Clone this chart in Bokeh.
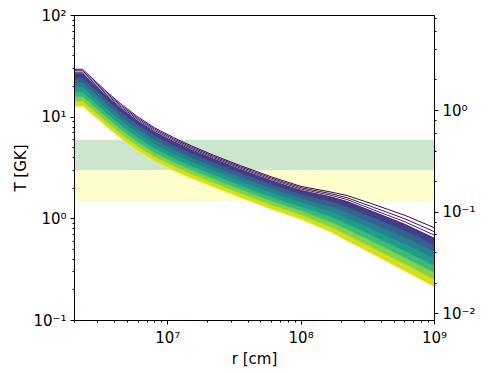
from bokeh.plotting import figure
from bokeh.models import Range1d, LogAxis, LogScale, CustomJSTickFormatter, BoxAnnotation
from bokeh.palettes import Viridis256
from bokeh.embed import file_html
from bokeh.resources import INLINE

# radius grid [cm]
r_cm = [2.0e6, 2.3e6, 2.8e6, 3.5e6, 4.5e6, 6e6, 8e6, 1.1e7, 1.5e7, 2.2e7,
        3.5e7, 6e7, 1e8, 1.65e8, 2.2e8, 3.5e8, 6e8, 1e9]
# position of each curve in the colour sequence (0 = first/purple, 1 = last/yellow)
frac = [0.0, 0.04, 0.08, 0.12, 0.25, 0.375, 0.5, 0.625, 0.75, 0.875, 1.0]
# temperature profiles T [GK]
T_curves = [
    [29.55, 29.55, 23.27, 17.70, 13.32, 10.00, 7.836, 6.310, 5.231, 4.231, 3.338, 2.587, 2.083, 1.840, 1.700, 1.387, 1.082, 0.816],
    [28.59, 28.59, 22.52, 17.15, 12.91, 9.698, 7.603, 6.125, 5.081, 4.112, 3.244, 2.512, 2.022, 1.774, 1.617, 1.296, 1.000, 0.746],
    [27.64, 27.64, 21.80, 16.62, 12.51, 9.403, 7.376, 5.944, 4.933, 3.994, 3.151, 2.439, 1.962, 1.711, 1.553, 1.225, 0.935, 0.689],
    [26.74, 26.74, 21.11, 16.10, 12.13, 9.120, 7.157, 5.771, 4.791, 3.880, 3.061, 2.369, 1.905, 1.651, 1.485, 1.171, 0.883, 0.644],
    [23.98, 23.98, 18.99, 14.53, 10.97, 8.255, 6.486, 5.237, 4.355, 3.533, 2.787, 2.153, 1.729, 1.468, 1.302, 1.016, 0.756, 0.547],
    [21.61, 21.61, 17.15, 13.16, 9.947, 7.499, 5.902, 4.772, 3.973, 3.228, 2.546, 1.964, 1.575, 1.311, 1.148, 0.885, 0.650, 0.468],
    [19.46, 19.46, 15.50, 11.92, 9.024, 6.813, 5.369, 4.347, 3.625, 2.948, 2.326, 1.793, 1.435, 1.171, 1.011, 0.771, 0.559, 0.402],
    [17.53, 17.53, 14.00, 10.80, 8.187, 6.190, 4.885, 3.961, 3.308, 2.694, 2.125, 1.635, 1.307, 1.046, 0.891, 0.672, 0.481, 0.344],
    [15.80, 15.80, 12.65, 9.788, 7.429, 5.623, 4.444, 3.609, 3.018, 2.461, 1.942, 1.492, 1.191, 0.934, 0.787, 0.586, 0.414, 0.294],
    [14.23, 14.23, 11.43, 8.867, 6.739, 5.110, 4.044, 3.288, 2.753, 2.249, 1.774, 1.361, 1.085, 0.835, 0.694, 0.510, 0.357, 0.252],
    [12.82, 12.82, 10.32, 8.033, 6.113, 4.642, 3.679, 2.996, 2.512, 2.055, 1.621, 1.242, 0.989, 0.746, 0.611, 0.445, 0.306, 0.215],
]
# shaded temperature bands [GK]
band_lo = [3.0, 1.5]
band_hi = [6.0, 3.0]
band_col = ["green", "yellow"]
kB_MeV_per_GK = 0.08617
T_range = (0.1, 100.0)
r_range = (2.0e6, 1.0e9)

FONT = "DejaVu Sans"

p = figure(width=489, height=373, x_axis_type="log", y_axis_type="log",
           x_range=r_range, y_range=T_range, output_backend="svg",
           toolbar_location=None, min_border_left=74, min_border_right=55,
           min_border_top=15, min_border_bottom=53)
p.grid.visible = False
p.outline_line_color = "black"
p.outline_line_width = 1
p.background_fill_color = "white"
p.border_fill_color = "white"

for lo, hi, c in zip(band_lo, band_hi, band_col):
    p.add_layout(BoxAnnotation(bottom=lo, top=hi, fill_color=c, fill_alpha=0.2,
                               line_color=None, level="underlay"))

def vcol(f):
    return Viridis256[int(round(f * 255))]

n = len(T_curves)
for i in range(3, n - 1):
    p.varea(x=r_cm, y1=T_curves[i], y2=T_curves[i + 1],
            fill_color=vcol(0.5 * (frac[i] + frac[i + 1])))
for i in range(n):
    p.line(r_cm, T_curves[i], line_color=vcol(frac[i]), line_width=1.0)

sup_js = """
const sup = {"-":"\u207b","0":"\u2070","1":"\u00b9","2":"\u00b2","3":"\u00b3","4":"\u2074","5":"\u2075","6":"\u2076","7":"\u2077","8":"\u2078","9":"\u2079"};
const e = Math.round(Math.log10(tick));
return "10" + String(e).split("").map(c => sup[c]).join("");
"""

p.extra_y_ranges = {"mev": Range1d(T_range[0] * kB_MeV_per_GK, T_range[1] * kB_MeV_per_GK)}
p.extra_y_scales = {"mev": LogScale()}
rax = LogAxis(y_range_name="mev")
p.add_layout(rax, "right")

for ax in [p.xaxis[0], p.yaxis[0], rax]:
    ax.formatter = CustomJSTickFormatter(code=sup_js)
    ax.major_label_text_font = FONT
    ax.major_label_text_font_size = "15px"
    ax.major_label_text_color = "black"
    ax.axis_line_color = "black"
    ax.major_tick_line_color = "black"
    ax.minor_tick_line_color = "black"
    ax.major_tick_in = 0
    ax.major_tick_out = 4
    ax.minor_tick_in = 0
    ax.minor_tick_out = 2
    ax.major_label_standoff = 4
    ax.axis_label_text_font = FONT
    ax.axis_label_text_font_size = "15px"
    ax.axis_label_text_font_style = "normal"
    ax.axis_label_text_color = "black"
    ax.axis_label_standoff = 0

p.xaxis[0].axis_label = "r [cm]"
p.yaxis[0].axis_label = "T [GK]"

open("out.html", "w").write(file_html(p, INLINE))
